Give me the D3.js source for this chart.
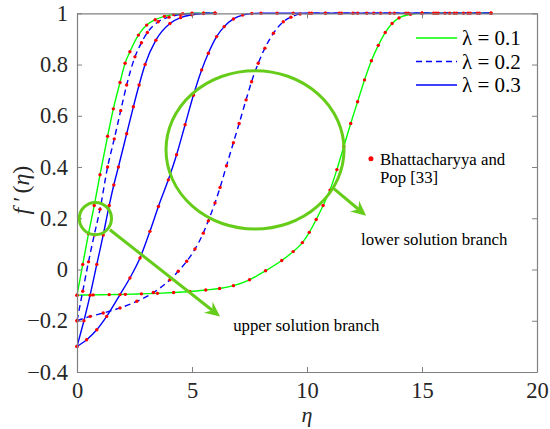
<!DOCTYPE html>
<html>
<head>
<meta charset="utf-8">
<script src="https://cdn.jsdelivr.net/npm/d3@7"></script>
<style>
  body { margin: 0; background: #fff; }
  svg { display: block; }
</style>
</head>
<body>
<svg id="chart" font-family="Liberation Serif"></svg>
<script>
const width = 550;
const height = 429;

// upper solution branch (eta, f')
const upperEta1 = [0, 0.25, 0.5, 0.75, 1.0, 1.33, 1.58, 1.87, 2.09, 2.3, 2.67, 3.03, 3.4, 3.8, 4.2, 4.6, 5.0, 5.5, 6.0];
const upperF1   = [-0.1, 0.02, 0.14, 0.25, 0.37, 0.52, 0.627, 0.73, 0.805, 0.85, 0.915, 0.954, 0.975, 0.988, 0.995, 0.998, 1.0, 1.0, 1.0];
const upperEta2 = [0, 0.25, 0.5, 0.75, 1.0, 1.33, 1.62, 1.9, 2.16, 2.52, 2.8, 3.06, 3.53, 4.0, 4.5, 5.0, 5.5, 6.0];
const upperF2   = [-0.2, -0.085, 0.03, 0.135, 0.235, 0.40, 0.51, 0.62, 0.72, 0.83, 0.885, 0.925, 0.967, 0.985, 0.995, 0.999, 1.0, 1.0];
const upperEta3 = [0, 0.3, 0.57, 0.86, 1.14, 1.4, 1.6, 1.8, 2.16, 2.45, 2.7, 2.96, 3.43, 4.04, 4.5, 5.0, 5.5, 6.0];
const upperF3   = [-0.3, -0.2, -0.1, 0.02, 0.135, 0.25, 0.33, 0.40, 0.53, 0.635, 0.72, 0.80, 0.895, 0.96, 0.983, 0.994, 0.999, 1.0];

// lower solution branch
const lowerEta1 = [0, 0.7, 1.4, 2.1, 2.8, 3.5, 4.2, 4.9, 5.6, 6.2, 6.8, 7.5, 8.2, 8.9, 9.4, 9.8, 10.1, 10.4, 10.7, 11.0, 11.3, 11.6, 11.9, 12.2, 12.5, 12.8, 13.1, 13.4, 13.7, 14.0, 14.5, 15, 15.5, 16, 16.5, 17, 17.5, 18];
const lowerF1   = [-0.1, -0.099, -0.098, -0.097, -0.095, -0.093, -0.09, -0.086, -0.08, -0.074, -0.063, -0.04, -0.005, 0.035, 0.07, 0.105, 0.145, 0.195, 0.25, 0.31, 0.39, 0.48, 0.57, 0.655, 0.74, 0.815, 0.875, 0.925, 0.96, 0.982, 0.996, 1.0, 1.0, 1.0, 1.0, 1.0, 1.0, 1.0];
const lowerEta2 = [0, 0.57, 1.14, 1.87, 2.6, 3.32, 4.04, 4.4, 4.77, 5.13, 5.49, 5.71, 6.0, 6.22, 6.5, 6.8, 7.05, 7.35, 7.59, 7.88, 8.17, 8.54, 8.97, 9.3, 9.7, 10.2, 10.8, 11.4, 12, 12.6, 13.2, 13.8, 14.4, 15, 15.6, 16.2, 16.8, 17.4, 18];
const lowerF2   = [-0.2, -0.183, -0.17, -0.15, -0.124, -0.09, -0.04, -0.007, 0.032, 0.08, 0.142, 0.19, 0.26, 0.32, 0.405, 0.495, 0.57, 0.662, 0.733, 0.805, 0.864, 0.922, 0.967, 0.985, 0.997, 1.0, 1.0, 1.0, 1.0, 1.0, 1.0, 1.0, 1.0, 1.0, 1.0, 1.0, 1.0, 1.0, 1.0];
const lowerEta3 = [0, 0.42, 0.86, 1.29, 1.87, 2.3, 2.74, 3.17, 3.54, 3.97, 4.33, 4.7, 5.06, 5.42, 5.71, 6.07, 6.4, 6.8, 7.2, 7.6, 8.0, 8.7, 9.4, 10.1, 10.8, 11.5, 12.2, 12.9, 13.6, 14.3, 15, 15.7, 16.4, 17.1, 18];
const lowerF3   = [-0.3, -0.274, -0.235, -0.183, -0.098, -0.033, 0.045, 0.149, 0.246, 0.35, 0.448, 0.565, 0.68, 0.779, 0.844, 0.909, 0.948, 0.978, 0.993, 0.999, 1.0, 1.0, 1.0, 1.0, 1.0, 1.0, 1.0, 1.0, 1.0, 1.0, 1.0, 1.0, 1.0, 1.0, 1.0];

const legendLabels = ["\u03bb = 0.1", "\u03bb = 0.2", "\u03bb = 0.3"];
const xTicks = [0, 5, 10, 15, 20];
const yTicks = [-0.4, -0.2, 0, 0.2, 0.4, 0.6, 0.8, 1];

const green = "#00ff00";
const blue = "#0000ff";
const annoGreen = "#66cc1a";

const x = d3.scaleLinear().domain([0, 20]).range([77, 537]);
const y = d3.scaleLinear().domain([-0.4, 1]).range([372, 13.3]);

const svg = d3.select("#chart").attr("width", width).attr("height", height);

// curves
const series = [
  { eta: upperEta1, f: upperF1, color: green, dash: null },
  { eta: lowerEta1, f: lowerF1, color: green, dash: null },
  { eta: upperEta2, f: upperF2, color: blue, dash: "6,4" },
  { eta: lowerEta2, f: lowerF2, color: blue, dash: "6,4" },
  { eta: upperEta3, f: upperF3, color: blue, dash: null },
  { eta: lowerEta3, f: lowerF3, color: blue, dash: null }
];

const line = d3.line()
  .x(d => x(d[0]))
  .y(d => y(d[1]))
  .curve(d3.curveMonotoneX);

series.forEach(s => {
  const pts = s.eta.map((e, i) => [e, s.f[i]]);
  svg.append("path")
    .attr("d", line(pts))
    .attr("fill", "none")
    .attr("stroke", s.color)
    .attr("stroke-width", 1.4)
    .attr("stroke-dasharray", s.dash);
});

// Bhattacharyya and Pop points
series.forEach(s => {
  svg.append("g").selectAll("circle")
    .data(s.eta.map((e, i) => [e, s.f[i]]))
    .join("circle")
    .attr("cx", d => x(d[0]))
    .attr("cy", d => y(d[1]))
    .attr("r", 1.7)
    .attr("fill", "#ff0000");
});

// axes (box with inward ticks)
const axisColor = "#808080";
function styleAxis(g, labels) {
  g.attr("font-family", "Liberation Serif").attr("font-size", 22.5);
  g.selectAll(".domain").attr("stroke", axisColor).attr("stroke-width", 1.2);
  g.selectAll(".tick line").attr("stroke", axisColor);
  g.selectAll(".tick text").attr("fill", "#262626");
  if (!labels) g.selectAll(".tick text").remove();
}
svg.append("g").attr("transform", `translate(0,${y(-0.4)})`)
  .call(d3.axisBottom(x).tickValues(xTicks).tickSizeInner(-5).tickSizeOuter(0).tickPadding(10))
  .call(g => styleAxis(g, true));
svg.append("g").attr("transform", `translate(0,${y(1)})`)
  .call(d3.axisTop(x).tickValues(xTicks).tickSizeInner(-5).tickSizeOuter(0))
  .call(g => styleAxis(g, false));
svg.append("g").attr("transform", `translate(${x(0)},0)`)
  .call(d3.axisLeft(y).tickValues(yTicks).tickSizeInner(-5).tickSizeOuter(0).tickPadding(9).tickFormat(d3.format("")))
  .call(g => styleAxis(g, true));
svg.append("g").attr("transform", `translate(${x(20)},0)`)
  .call(d3.axisRight(y).tickValues(yTicks).tickSizeInner(-5).tickSizeOuter(0))
  .call(g => styleAxis(g, false));

// axis labels
svg.append("text")
  .attr("x", x(10)).attr("y", 422)
  .attr("text-anchor", "middle")
  .attr("font-size", 22).attr("font-style", "italic")
  .attr("fill", "#262626")
  .text("\u03b7");

const yl = svg.append("text")
  .attr("transform", `translate(29,${y(0.31)}) rotate(-90)`)
  .attr("text-anchor", "middle")
  .attr("font-size", 24)
  .attr("fill", "#262626");
yl.append("tspan").attr("font-style", "italic").text("f");
yl.append("tspan").attr("dx", 6).text("\u2032");
yl.append("tspan").attr("dx", 3).text("(");
yl.append("tspan").attr("font-style", "italic").text("\u03b7");
yl.append("tspan").text(")");

// legend
const legendY = [38, 61.5, 85];
const legendColor = [green, blue, blue];
const legendDash = [null, "6,4", null];
legendLabels.forEach((lab, i) => {
  svg.append("line")
    .attr("x1", 416).attr("x2", 457)
    .attr("y1", legendY[i]).attr("y2", legendY[i])
    .attr("stroke", legendColor[i]).attr("stroke-width", 1.5)
    .attr("stroke-dasharray", legendDash[i]);
  svg.append("text")
    .attr("x", 462).attr("y", legendY[i] + 7)
    .attr("font-size", 21).attr("fill", "#000")
    .text(lab);
});

// reference marker label
svg.append("circle").attr("cx", x(12.78)).attr("cy", y(0.432)).attr("r", 2.5).attr("fill", "#ff0000");
svg.append("text").attr("x", x(13.17)).attr("y", y(0.409))
  .attr("font-size", 16.8).text("Bhattacharyya and");
svg.append("text").attr("x", x(13.17)).attr("y", y(0.337))
  .attr("font-size", 16.8).text("Pop [33]");

// annotations
svg.append("ellipse")
  .attr("cx", x(7.74)).attr("cy", y(0.467))
  .attr("rx", x(3.87) - x(0)).attr("ry", y(0) - y(0.309))
  .attr("fill", "none").attr("stroke", annoGreen).attr("stroke-width", 3);
svg.append("ellipse")
  .attr("cx", x(0.80)).attr("cy", y(0.199))
  .attr("rx", x(0.70) - x(0)).attr("ry", y(0) - y(0.063))
  .attr("fill", "none").attr("stroke", annoGreen).attr("stroke-width", 3);

function arrow(from, to) {
  const x0 = x(from[0]), y0 = y(from[1]), x1 = x(to[0]), y1 = y(to[1]);
  const ang = Math.atan2(y1 - y0, x1 - x0);
  const len = 15, half = 7, notch = 10;
  const ux = Math.cos(ang), uy = Math.sin(ang);
  const bx = x1 - ux * len, by = y1 - uy * len;
  const nx = x1 - ux * notch, ny = y1 - uy * notch;
  svg.append("line")
    .attr("x1", x0).attr("y1", y0).attr("x2", nx).attr("y2", ny)
    .attr("stroke", annoGreen).attr("stroke-width", 3);
  svg.append("path")
    .attr("d", `M${x1},${y1}L${bx - uy * half},${by + ux * half}L${nx},${ny}L${bx + uy * half},${by - ux * half}Z`)
    .attr("fill", annoGreen);
}
arrow([1.43, 0.155], [6.22, -0.183]);
arrow([11.14, 0.318], [12.57, 0.21]);

svg.append("text").attr("x", x(6.79)).attr("y", y(-0.241))
  .attr("font-size", 16.8).text("upper solution branch");
svg.append("text").attr("x", x(12.35)).attr("y", y(0.097))
  .attr("font-size", 16.8).text("lower solution branch");
</script>
</body>
</html>
